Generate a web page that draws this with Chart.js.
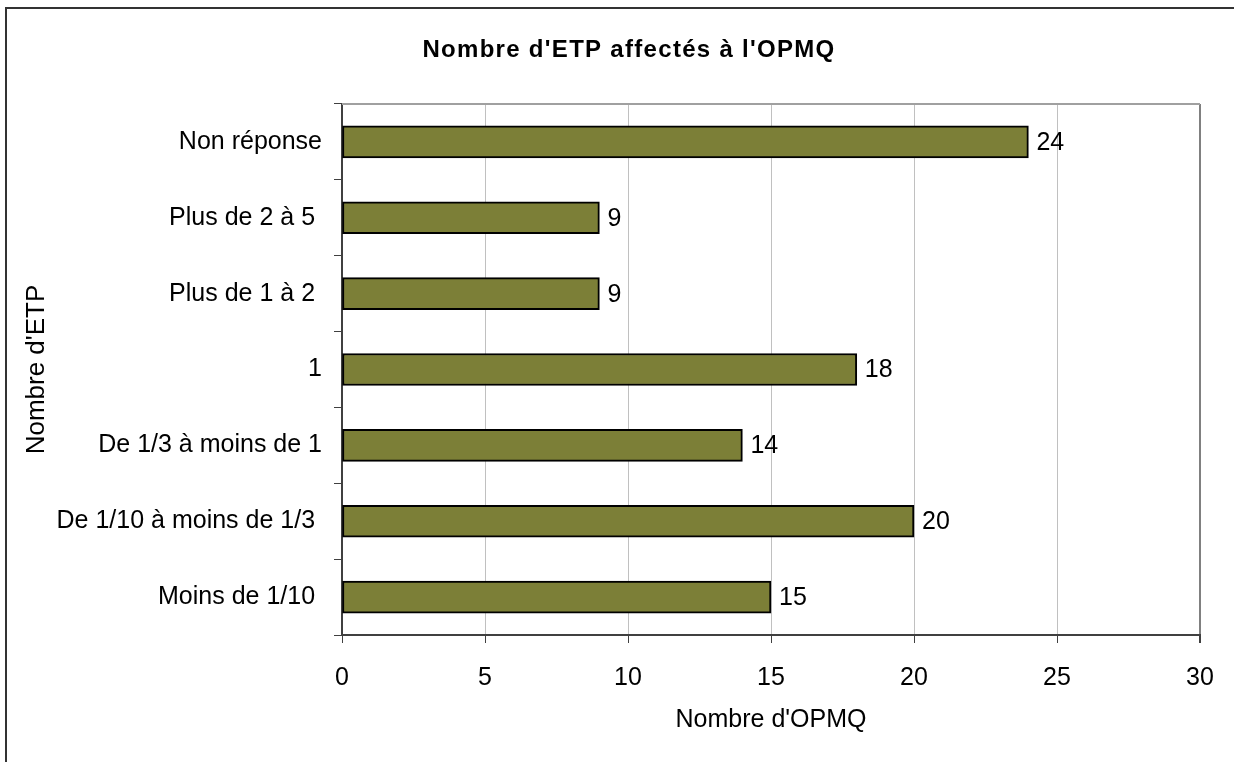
<!DOCTYPE html>
<html>
<head>
<meta charset="utf-8">
<script src="https://cdn.jsdelivr.net/npm/chart.js@4/dist/chart.umd.min.js"></script>
<style>
  html, body { margin: 0; padding: 0; background: #fff; }
  canvas { display: block; }
</style>
</head>
<body>
<canvas id="chart" width="1234" height="762"></canvas>
<script>
// Data (top to bottom as drawn)
const categories = [
    'Non réponse',
    'Plus de 2 à 5 ',
    'Plus de 1 à 2 ',
    '1',
    'De 1/3 à moins de 1',
    'De 1/10 à moins de 1/3 ',
    'Moins de 1/10 '
];
const counts = [24, 9, 9, 18, 14, 20, 15];
const xMin = 0;
const xMax = 30;
const xStep = 5;

const chartTitle = "Nombre d'ETP affectés à l'OPMQ";
const xTitle = "Nombre d'OPMQ";
const yTitle = "Nombre d'ETP";

const FONT = "'Liberation Sans', Arial, sans-serif";

// Frame, title, top border of the plot area
const framePlugin = {
    id: 'frame',
    beforeDraw(chart) {
        const ctx = chart.ctx;
        ctx.save();
        ctx.fillStyle = '#fff';
        ctx.fillRect(0, 0, chart.width, chart.height);
        ctx.strokeStyle = '#333';
        ctx.lineWidth = 2;
        ctx.strokeRect(6, 8, 1400, 900);
        ctx.restore();
    },
    afterDraw(chart) {
        const ctx = chart.ctx;
        const area = chart.chartArea;
        ctx.save();
        ctx.strokeStyle = '#a0a0a0';
        ctx.lineWidth = 2;
        ctx.beginPath();
        ctx.moveTo(area.left, area.top);
        ctx.lineTo(area.right, area.top);
        ctx.stroke();

        ctx.fillStyle = '#000';
        ctx.font = 'bold 24px ' + FONT;
        ctx.textAlign = 'center';
        ctx.textBaseline = 'alphabetic';
        ctx.letterSpacing = '1.3px';
        ctx.fillText(chartTitle, 629, 57);
        ctx.restore();
    }
};

// Values written after the end of each bar
const valueLabels = {
    id: 'valueLabels',
    afterDatasetsDraw(chart) {
        const ctx = chart.ctx;
        const meta = chart.getDatasetMeta(0);
        ctx.save();
        ctx.fillStyle = '#000';
        ctx.font = '25px ' + FONT;
        ctx.textAlign = 'left';
        ctx.textBaseline = 'middle';
        meta.data.forEach((bar, i) => {
            ctx.fillText(String(counts[i]), bar.x + 8, bar.y + 1);
        });
        ctx.restore();
    }
};

new Chart(document.getElementById('chart'), {
    type: 'bar',
    data: {
        labels: categories,
        datasets: [{
            data: counts,
            backgroundColor: '#7c7f37',
            borderColor: '#000',
            borderWidth: 2,
            borderSkipped: false,
            barThickness: 32
        }]
    },
    options: {
        indexAxis: 'y',
        responsive: false,
        animation: false,
        devicePixelRatio: 1,
        layout: { padding: { top: 104, right: 34, left: 0, bottom: 0 } },
        plugins: {
            legend: { display: false },
            title: { display: false },
            tooltip: { enabled: false }
        },
        scales: {
            x: {
                min: xMin,
                max: xMax,
                afterFit(scale) { scale.height = 127; },
                ticks: {
                    stepSize: xStep,
                    color: '#000',
                    padding: 20,
                    font: { family: FONT, size: 25 }
                },
                grid: {
                    color: (c) => c.tick && c.tick.value === xMax ? '#808080' : '#c0c0c0',
                    lineWidth: (c) => c.tick && c.tick.value === xMax ? 2 : 1,
                    tickColor: '#404040',
                    tickLength: 8
                },
                border: { color: '#404040', width: 2 },
                title: {
                    display: true,
                    text: xTitle,
                    color: '#000',
                    font: { family: FONT, size: 25 },
                    padding: { top: 0, bottom: 27 }
                }
            },
            y: {
                afterFit(scale) { scale.width = 342; },
                ticks: {
                    color: '#000',
                    padding: 12,
                    font: { family: FONT, size: 25 }
                },
                grid: {
                    drawOnChartArea: false,
                    offset: true,
                    tickColor: '#404040',
                    tickLength: 8,
                    lineWidth: 1
                },
                border: { color: '#404040', width: 2 },
                title: {
                    display: true,
                    text: yTitle,
                    color: '#000',
                    font: { family: FONT, size: 26 },
                    padding: { top: 21, bottom: 0 }
                }
            }
        }
    },
    plugins: [framePlugin, valueLabels]
});
</script>
</body>
</html>
